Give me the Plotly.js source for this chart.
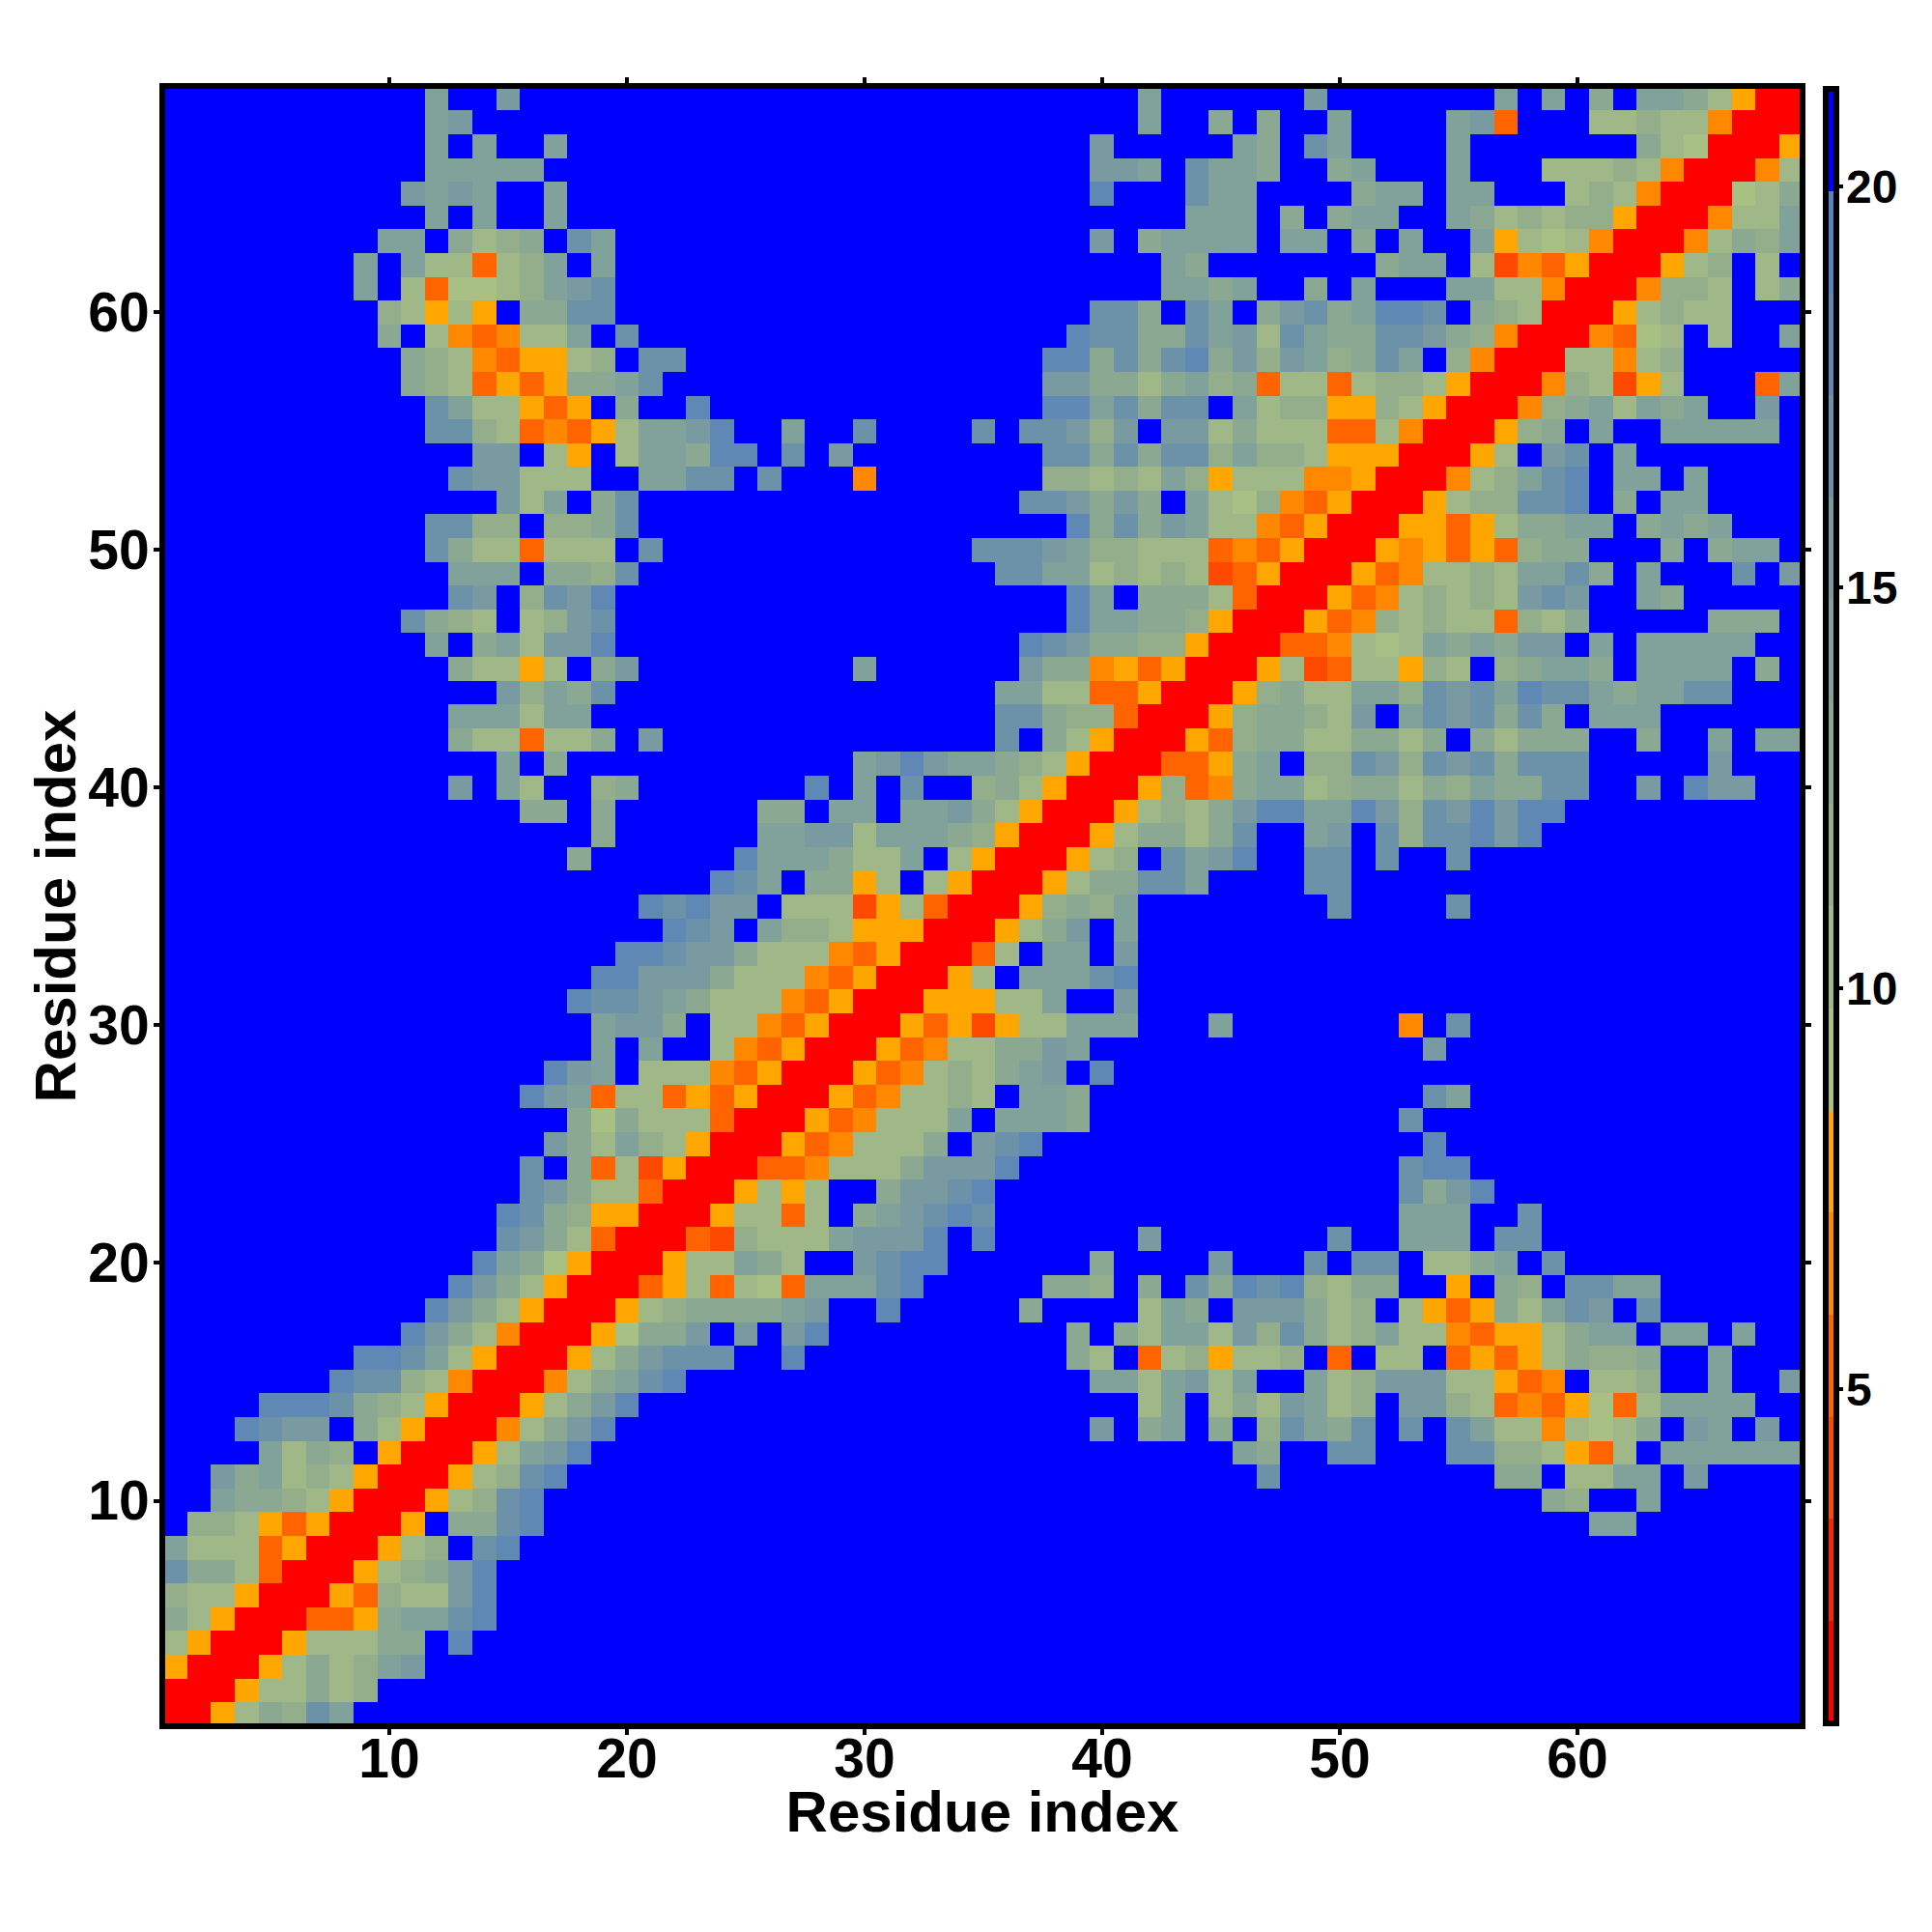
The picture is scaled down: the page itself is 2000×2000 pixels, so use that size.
<!DOCTYPE html>
<html>
<head>
<meta charset="utf-8">
<script src="https://cdn.plot.ly/plotly-3.0.1.min.js"></script>
<style>html,body{margin:0;padding:0;background:#fff}</style>
</head>
<body>
<div id="chart" style="width:2000px;height:2000px"></div>
<script>
// Distance-level codes, upper-left triangle of a symmetric map.
// Format: "startResidue:codes"; 1..g are the 16 colour bands, "." is the top (blue) band.
const rows = {
69:"12:b 15:c 42:b 49:c 57:b 59:b 61:a 63:bba8611",
68:"12:bc 42:b 45:a 47:a 50:b 55:bc4 61:88988511",
67:"12:b 14:b 17:b 40:c 46:ba 49:db 55:b 63:a8711",
66:"12:bbbbb 40:ccb 44:dbba 50:ab 55:b 59:88898511",
65:"11:cbcb 17:b 40:e 44:dbb 51:abb 55:bb 60:898511",
64:"12:b 14:b 17:b 44:bbb 48:a 50:abb 55:ba89899611",
63:"10:bb 13:a89a 18:db 40:c 42:abbbb 48:bb 51:a 53:b 56:b6878511",
62:"9:b 11:b88489b 19:b 43:ba 52:abb 56:8354611",
61:"9:b 11:847789bcd 43:bbab 49:a 51:b 55:bb88511",
60:"10:98686 16:aadd 40:dda 44:db 47:acdabeed 56:a9811",
59:"10:a 12:854588b 20:d 39:eddaadbc8dbaaddca9511",
58:"11:a98546689 21:dd 38:eeadadeac9cb9adb.9511",
57:"11:a984646aabd 38:ccaa8ab9a48848998611",
56:"12:db88646.a 23:e 38:eebdadd.b8996698611",
55:"12:dd9845468bbce 27:b 30:d 35:d 37:ddc9c.cc8a888448511",
54:"14:cc.86.8bbaee 27:d 29:c 38:ddadadd9b99866611",
53:"13:dcc888..bbdd.d 30:5 38:99898b9688855611",
52:"15:c8b.ad 37:ddcaca.b87954611",
51:"12:dd99.99ad 39:eadacb8854611",
50:"12:da884888.d 35:dddcb99888454611",
49:"13:bbb.aa9d 36:ddbb8989834611",
48:"13:dc.9dce 39:eb.aaa8411",
47:"11:da98.89cd 39:ebbaa9611",
46:"12:b.ab8cce 37:edcaa99611",
45:"13:a8868.ac 30:b 37:caa564611",
44:"15:c9bad 36:bb8844611",
43:"13:bbb8bb 36:dda99411",
42:"13:a88488a 21:c 36:d 38:a8611",
41:"15:b.a 30:bcecbba98611",
40:"13:c 15:b8 19:9a 28:e 30:b 32:d 35:9a8611",
39:"16:aa 19:a 26:aa 29:bb 32:bbca8611",
38:"19:a 26:bbcc8bbba9611",
37:"18:a 25:ebbba88b.8611",
36:"24:edb.aa68.8611",
35:"21:edecc.888368411",
34:"22:edc.b99866611",
33:"20:eedcca88854611",
32:"19:eeccca88854611",
31:"18:eddcba88854611",
30:"19:bcca.8854611",
29:"19:b.b..854611",
28:"17:ecb.88854611",
27:"16:ecb488464611",
26:"18:a7a888411",
25:"17:ca8b98611",
24:"16:d.a483611",
23:"16:dca88411",
22:"15:eda96611",
21:"15:dca8411",
20:"14:eba7611",
19:"13:eca8611",
18:"12:eca8611",
17:"11:eca8511",
16:"9:eedb8611",
15:"8:edd98511",
14:"5:eeeda98611",
13:"4:edcc.a8611",
12:"5:b8a9.611",
11:"3:cab898611",
10:"3:baa98611",
9:"2:99864611",
8:"1:b8884611",
7:"1:daa8411",
6:"1:988611",
5:"1:a8611",
4:"1:8611",
3:"1:611",
2:"1:11",
1:"1:1"
};
const bandColors = ["#ff0000","#ff2400","#ff4800","#ff6400","#ff8800","#ffa600",
  "#a8c084","#a0b888","#94ae8c","#8aa892","#80a29a","#789aa0","#6c92aa","#6088b4","#5583bd","#0000ff"];
const zMin = 0.83, zMax = 21.215;
const colorbarTicks = [5,10,15,20];
const axisTicks = [10,20,30,40,50,60];
const codes = "123456789abcdefg";

const N = 69;
const step = (zMax - zMin) / bandColors.length;
const zFor = ch => zMin + (codes.indexOf(ch) + 0.5) * step;
const residues = Array.from({length:N}, (_, i) => i + 1);
const z = residues.map(() => residues.map(() => zFor("g")));
Object.keys(rows).forEach(y => {
  rows[y].split(" ").forEach(seg => {
    const [start, s] = seg.split(":");
    [...s].forEach((ch, k) => {
      if (ch === ".") return;
      const x = +start + k;
      z[y-1][x-1] = zFor(ch);
      z[x-1][y-1] = zFor(ch);
    });
  });
});
const colorscale = [];
bandColors.forEach((c, k) => {
  colorscale.push([k / bandColors.length, c], [(k + 1) / bandColors.length, c]);
});

const family = '"Liberation Sans", Arial, sans-serif';
const boldFont = (size) => ({family, size, color:"#000", weight:700});
const axisCommon = {
  tickmode:"array", tickvals:axisTicks, ticktext:axisTicks.map(String),
  ticks:"outside", ticklen:6, tickwidth:4, tickcolor:"#000",
  showline:true, linecolor:"#000", linewidth:6, mirror:"ticks",
  showgrid:false, zeroline:false, tickfont:boldFont(57), automargin:false
};
Plotly.newPlot("chart", [{
  type:"heatmap", x:residues, y:residues, z, zsmooth:false,
  zmin:zMin, zmax:zMax, colorscale, hoverongaps:false,
  colorbar:{
    thicknessmode:"pixels", thickness:11, lenmode:"fraction", len:1,
    x:1.016, xanchor:"left", xpad:0, y:0.5, yanchor:"middle", ypad:0,
    outlinewidth:6, outlinecolor:"#000", borderwidth:0,
    tickmode:"array", tickvals:colorbarTicks, ticktext:colorbarTicks.map(String),
    ticks:"outside", ticklen:4, tickwidth:4, tickcolor:"#000",
    tickfont:boldFont(48)
  }
}], {
  width:2000, height:2000, autosize:false,
  margin:{l:171, r:137, t:92, b:216, pad:0},
  paper_bgcolor:"#fff", plot_bgcolor:"#fff",
  xaxis:Object.assign({}, axisCommon, {range:[0.569, 69.35], ticklabelstandoff:-24,
    title:{text:"Residue index", font:boldFont(60), standoff:0}}),
  yaxis:Object.assign({}, axisCommon, {range:[0.63, 69.41], ticklabelstandoff:-7,
    title:{text:"Residue index", font:boldFont(60), standoff:0}})
}, {displayModeBar:false, responsive:false}).then(() => {
  // Small nudges that the axis options cannot express (negative title standoff, colorbar label gap).
  const root = document.getElementById("chart");
  const nudge = (sel, dx, dy) => root.querySelectorAll(sel).forEach(g => g.setAttribute("transform", `translate(${dx},${dy})`));
  nudge(".g-xtitle", 0, 5);
  nudge(".g-ytitle", 5, 0);
  root.querySelectorAll(".colorbar text").forEach(t => t.setAttribute("x", (+t.getAttribute("x")) - 6));
});
</script>
</body>
</html>
